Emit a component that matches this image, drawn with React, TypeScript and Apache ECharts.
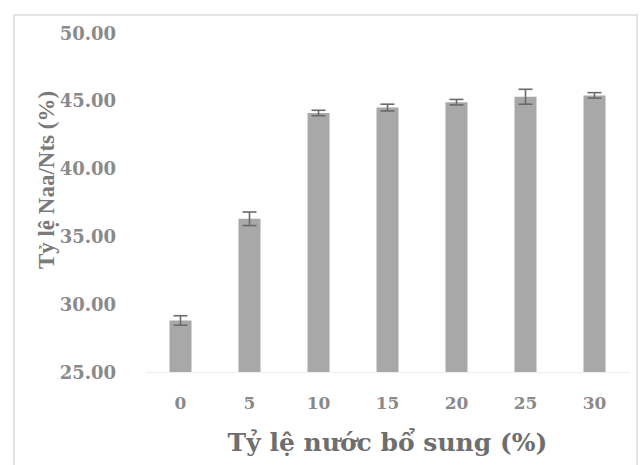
import React, { useEffect, useRef } from "react";
import * as echarts from "echarts";

const categories = ["0", "5", "10", "15", "20", "25", "30"];
const values = [28.8, 36.3, 44.1, 44.5, 44.9, 45.3, 45.4];
const errors = [0.35, 0.5, 0.2, 0.25, 0.2, 0.55, 0.2];
const yMin = 25;
const yMax = 50;
const yStep = 5;
const xTitle = "Tỷ lệ nước bổ sung (%)";
const yTitle = "Tỷ lệ Naa/Nts (%)";

export default function App() {
  const ref = useRef<HTMLDivElement>(null);
  useEffect(() => {
    if (!ref.current) return;
    const chart = echarts.init(ref.current, undefined, { renderer: "svg" });
    const errData = values.map((v, i) => [i, v - errors[i], v + errors[i]]);
    chart.setOption({
      animation: false,
      backgroundColor: "#ffffff",
      grid: { left: 146, right: 14, top: 33, bottom: 93 },
      graphic: [
        {
          type: "rect",
          shape: { x: 14, y: 15, width: 623, height: 470 },
          style: { fill: "none", stroke: "#e4e4e4", lineWidth: 2 },
          silent: true,
        },
        {
          type: "text",
          x: 46,
          y: 180,
          rotation: Math.PI / 2,
          style: {
            text: yTitle,
            fontFamily: "Liberation Serif",
            fontWeight: "bold",
            fontSize: 23,
            fill: "#7a7a7a",
            align: "center",
            verticalAlign: "middle",
          },
          z: 10,
        },
      ],
      xAxis: {
        type: "category",
        data: categories,
        axisLine: { show: true, lineStyle: { color: "#ececec", width: 1 } },
        axisTick: { show: false },
        axisLabel: {
          margin: 22,
          fontFamily: "DejaVu Serif",
          fontWeight: "bold",
          fontSize: 17,
          color: "#8a8a8a",
        },
        name: xTitle,
        nameLocation: "middle",
        nameGap: 58,
        nameTextStyle: {
          fontFamily: "DejaVu Serif",
          fontWeight: "bold",
          fontSize: 25,
          color: "#6e6e6e",
        },
      },
      yAxis: {
        type: "value",
        min: yMin,
        max: yMax,
        interval: yStep,
        axisLine: { show: false },
        axisTick: { show: false },
        splitLine: { show: false },
        axisLabel: {
          margin: 30,
          formatter: (v: number) => v.toFixed(2),
          fontFamily: "DejaVu Serif",
          fontWeight: "bold",
          fontSize: 18,
          color: "#8a8a8a",
        },
      },
      series: [
        {
          type: "bar",
          data: values,
          barWidth: 22,
          itemStyle: { color: "#a8a8a8" },
          silent: true,
        },
        {
          type: "custom",
          data: errData,
          silent: true,
          z: 5,
          renderItem: (params: any, api: any) => {
            const x = api.value(0);
            const lo = api.coord([x, api.value(1)]);
            const hi = api.coord([x, api.value(2)]);
            const hw = 7;
            const style = { stroke: "#6a6a6a", lineWidth: 1.6 };
            return {
              type: "group",
              children: [
                { type: "line", shape: { x1: lo[0], y1: lo[1], x2: hi[0], y2: hi[1] }, style },
                { type: "line", shape: { x1: lo[0] - hw, y1: lo[1], x2: lo[0] + hw, y2: lo[1] }, style },
                { type: "line", shape: { x1: hi[0] - hw, y1: hi[1], x2: hi[0] + hw, y2: hi[1] }, style },
              ],
            };
          },
        },
      ],
    });
    return () => chart.dispose();
  }, []);
  return (
    <div
      ref={ref}
      style={{ position: "fixed", left: 0, top: 0, width: 643, height: 465 }}
    />
  );
}
